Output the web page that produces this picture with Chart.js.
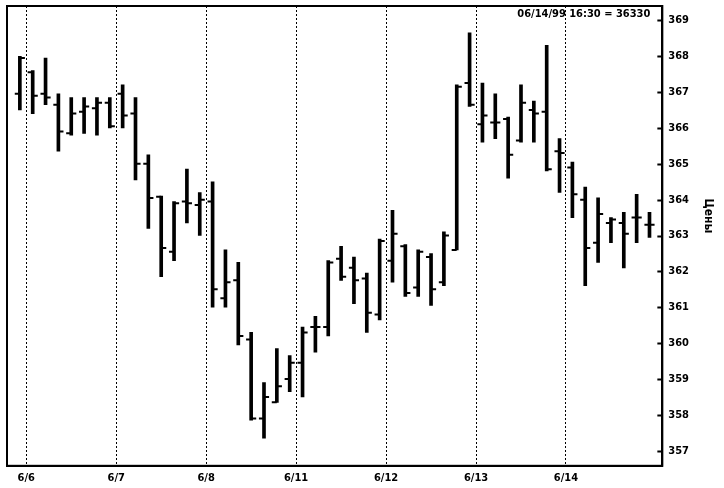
<!DOCTYPE html>
<html>
<head>
<meta charset="utf-8">
<script src="https://cdn.jsdelivr.net/npm/chart.js@4.4.1/dist/chart.umd.min.js"></script>
<style>
  html, body { margin: 0; padding: 0; background: #fff; }
  #wrap { width: 724px; height: 488px; }
</style>
</head>
<body>
<div id="wrap"><canvas id="ohlc"></canvas></div>
<script>
// ===== DATA =====
const dayLabels = ["6/6", "6/7", "6/8", "6/11", "6/12", "6/13", "6/14"];
const dayStarts = [0.5, 7.5, 14.5, 21.5, 28.5, 35.5, 42.5];
const priceTicks = [357, 358, 359, 360, 361, 362, 363, 364, 365, 366, 367, 368, 369];
const headerText = "06/14/99 16:30 = 36330";
const axisTitle = "Цены";

const opens = [
  366.95, 367.55, 366.95, 366.65, 365.85, 366.45, 366.55, 366.7, 366.95, 366.4,
  365.0, 364.08, 362.55, 363.95, 363.85, 363.95, 361.25, 361.75, 360.1, 357.9,
  358.35, 359.0, 359.45, 360.45, 360.45, 362.35, 362.1, 361.8, 360.8, 362.3,
  362.7, 361.55, 362.4, 361.7, 362.6, 367.25, 366.1, 366.15, 366.25, 365.65,
  366.5, 366.45, 365.35, 364.9, 364.0, 362.8, 363.35, 363.35, 363.5, 363.3
];
const highs = [
  368.0, 367.6, 367.95, 366.95, 366.85, 366.85, 366.85, 366.85, 367.2, 366.85,
  365.25, 364.1, 363.95, 364.85, 364.2, 364.5, 362.6, 362.25, 360.3, 358.9,
  359.85, 359.65, 360.45, 360.75, 362.3, 362.7, 362.4, 361.95, 362.9, 363.7,
  362.75, 362.6, 362.5, 363.1, 367.2, 368.65, 367.25, 366.95, 366.3, 367.2,
  366.75, 368.3, 365.7, 365.05, 364.35, 364.05, 363.5, 363.65, 364.15, 363.65
];
const lows = [
  366.5, 366.4, 366.65, 365.35, 365.8, 365.85, 365.8, 366.0, 366.0, 364.55,
  363.2, 361.85, 362.3, 363.35, 363.0, 361.0, 361.0, 359.95, 357.85, 357.35,
  358.35, 358.65, 358.5, 359.75, 360.2, 361.75, 361.1, 360.3, 360.65, 361.7,
  361.3, 361.3, 361.05, 361.6, 362.6, 366.6, 365.6, 365.7, 364.6, 365.6,
  365.6, 364.8, 364.2, 363.5, 361.6, 362.25, 362.8, 362.1, 362.8, 362.95
];
const closes = [
  367.95, 366.9, 366.85, 365.9, 366.4, 366.6, 366.7, 366.05, 366.35, 365.0,
  364.05, 362.65, 363.9, 363.9, 364.0, 361.5, 361.7, 360.2, 357.9, 358.5,
  358.8, 359.45, 360.3, 360.45, 362.25, 361.85, 361.75, 360.85, 362.85, 363.05,
  361.4, 362.55, 361.5, 363.0, 367.15, 366.65, 366.35, 366.15, 365.25, 366.7,
  366.4, 364.85, 365.3, 364.15, 362.65, 363.6, 363.45, 363.05, 363.5, 363.3
];

const FONT = "'DejaVu Sans Condensed', 'DejaVu Sans', sans-serif";

// ===== RAMKA, ZAGOLOVOK, RISKI =====
const framePlugin = {
  id: "frame",
  afterDraw(chart) {
    const { ctx, chartArea: a, scales } = chart;
    ctx.save();
    ctx.strokeStyle = "#000";
    ctx.lineWidth = 2;
    ctx.strokeRect(a.left, a.top, a.right - a.left, a.bottom - a.top);
    // short ticks on the inside of the price axis
    priceTicks.forEach((v) => {
      const py = Math.round(scales.y.getPixelForValue(v)) + 0.5;
      ctx.beginPath();
      ctx.moveTo(a.right - 5, py);
      ctx.lineTo(a.right, py);
      ctx.stroke();
    });
    ctx.fillStyle = "#000";
    ctx.font = "bold 11px " + FONT;
    ctx.textAlign = "right";
    ctx.textBaseline = "top";
    ctx.fillText(headerText, a.right - 12, a.top + 3);
    ctx.translate(a.right + 46, (a.top + a.bottom) / 2 - 20);
    ctx.rotate(Math.PI / 2);
    ctx.font = "bold 12px " + FONT;
    ctx.textAlign = "center";
    ctx.textBaseline = "middle";
    ctx.fillText(axisTitle, 0, 0);
    ctx.restore();
  }
};

const idx = opens.map((_, i) => i);

new Chart(document.getElementById("ohlc"), {
  type: "bar",
  data: {
    datasets: [
      {
        type: "bar",
        data: idx.map((i) => ({ x: i, y: [lows[i], highs[i]] })),
        backgroundColor: "#000",
        borderWidth: 0,
        barThickness: 3
      },
      {
        type: "line",
        showLine: false,
        data: idx.map((i) => ({ x: i - 0.2, y: opens[i] })),
        pointStyle: "line",
        pointRadius: 2.5,
        pointBorderWidth: 2,
        pointBorderColor: "#000"
      },
      {
        type: "line",
        showLine: false,
        data: idx.map((i) => ({ x: i + 0.2, y: closes[i] })),
        pointStyle: "line",
        pointRadius: 2.5,
        pointBorderWidth: 2,
        pointBorderColor: "#000"
      }
    ]
  },
  options: {
    responsive: true,
    maintainAspectRatio: false,
    animation: false,
    events: [],
    layout: { padding: { left: 7, top: 6, right: 29, bottom: -3 } },
    plugins: { legend: { display: false }, tooltip: { enabled: false } },
    scales: {
      x: {
        type: "linear",
        min: -1,
        max: 50,
        offset: false,
        grid: { color: "#000", lineWidth: 1, drawTicks: false, offset: false, borderDash: [2, 2] },
        border: { display: true, color: "#000", width: 2, dash: [2, 2] },
        afterBuildTicks: (s) => { s.ticks = dayStarts.map((v) => ({ value: v })); },
        ticks: {
          autoSkip: false,
          maxRotation: 0,
          padding: 6,
          color: "#000",
          font: { family: FONT, weight: "bold", size: 11 },
          callback: (v, i) => dayLabels[i]
        }
      },
      y: {
        position: "right",
        min: 356.58,
        max: 369.4,
        grid: { display: false, drawTicks: false },
        border: { display: true, color: "#000", width: 2 },
        afterBuildTicks: (s) => { s.ticks = priceTicks.map((v) => ({ value: v })); },
        afterFit: (s) => { s.paddingTop = 0; s.paddingBottom = 0; },
        ticks: {
          padding: 6,
          color: "#000",
          font: { family: FONT, weight: "bold", size: 11 }
        }
      }
    }
  },
  plugins: [framePlugin]
});
</script>
</body>
</html>
